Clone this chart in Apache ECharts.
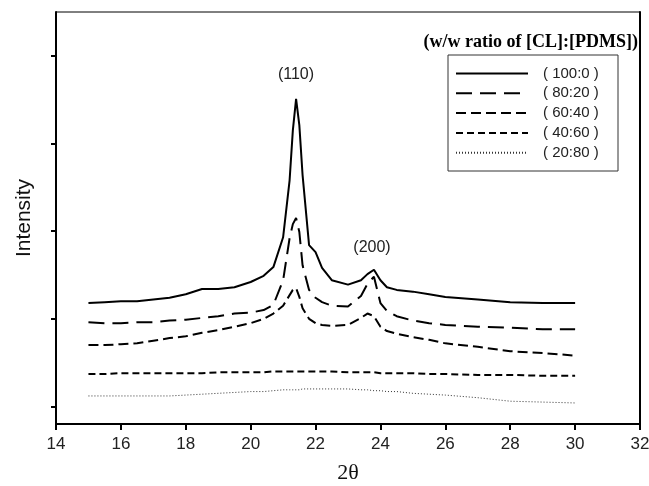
<!DOCTYPE html>
<html>
<head>
<meta charset="utf-8">
<script src="https://cdn.jsdelivr.net/npm/echarts@6/dist/echarts.min.js"></script>
<style>html,body{margin:0;padding:0;background:#fff}#c{width:649px;height:486px}</style>
</head>
<body>
<div id="c"></div>
<script>
// 2-theta values (shared)
var twoTheta = [15,15.5,16,16.5,17,17.5,18,18.5,19,19.5,20,20.4,20.7,21.0,21.2,21.3,21.4,21.5,21.6,21.8,22.0,22.2,22.5,23.0,23.4,23.6,23.8,24.0,24.2,24.5,25,25.5,26,27,28,29,30];
// intensities (arbitrary units) per composition
var s100_0 = [118,119,120,120,122,124,128,134,134,136,142,149,159,193,258,315,351,321,264,184,176,158,144,139,144,151,156,144,136,133,131,128,125,122,119,118,118];
var s80_20 = [96,95,95,96,96,98,99,101,103,106,107,110,116,144,192,208,215,199,161,133,124,119,115,114,126,140,148,118,109,103,98,95,93,91,90,88,88];
var s60_40 = [70,70,71,72,75,78,80,84,87,91,95,100,106,115,127,133,135,125,112,100,95,93,92,93,101,106,103,91,86,83,79,76,72,68,63,61,58];
var s40_60 = [37,37,38,38,38,38,38,38,39,39,39,39,40,40,40,40,40,40,40,40,40,40,40,39,39,39,39,38,38,38,38,37,37,36,36,35,35];
var s20_80 = [12,12,12,12,12,12,13,14,15,16,17,17,18,19,19,19,19,19,20,20,20,20,20,20,19,19,18,18,17,17,15,14,13,10,6,5,4];
var seriesNames = ['( 100:0 )','( 80:20 )','( 60:40 )','( 40:60 )','( 20:80 )'];
var xTicks = [14,16,18,20,22,24,26,28,30,32];
var yTickValues = [0,100,200,300,400];

function pairs(ys){ return twoTheta.map(function(x,i){ return [x, ys[i]]; }); }

var styles = [
  {type:'solid', width:2, color:'#000'},
  {type:[16,8], width:2, color:'#000'},
  {type:[10,5], width:2, color:'#000'},
  {type:[7,4], width:2, color:'#000'},
  {type:[1,2], width:1, color:'#333'}
];
var allData = [s100_0, s80_20, s60_40, s40_60, s20_80];

var chart = echarts.init(document.getElementById('c'), null, {renderer:'canvas'});
chart.setOption({
  animation:false,
  backgroundColor:'#fff',
  grid:{left:56, right:9, top:12, bottom:62, show:true, borderColor:'#000', borderWidth:1, outerBoundsMode:'none', containLabel:false},
  xAxis:{
    type:'value', min:xTicks[0], max:xTicks[xTicks.length-1], interval:2,
    name:'2θ', nameLocation:'middle', nameGap:38,
    nameTextStyle:{fontFamily:'Liberation Serif', fontSize:22, color:'#111'},
    axisLine:{onZero:false, lineStyle:{color:'#000', width:2}},
    axisTick:{show:true, length:6, lineStyle:{color:'#000', width:2}},
    axisLabel:{fontFamily:'Liberation Sans', fontSize:17, color:'#222', margin:12},
    splitLine:{show:false}
  },
  yAxis:[{
    type:'value', min:-20, max:450,
    name:'Intensity', nameLocation:'middle', nameGap:21,
    nameTextStyle:{fontFamily:'Liberation Sans', fontSize:21, color:'#111'},
    axisLine:{show:true, onZero:false, lineStyle:{color:'#000', width:2}},
    axisTick:{show:true, length:5, customValues:yTickValues, lineStyle:{color:'#000', width:2}},
    axisLabel:{show:false},
    splitLine:{show:false}
  },{
    type:'value', min:-20, max:450, position:'right',
    axisLine:{show:true, onZero:false, lineStyle:{color:'#000', width:2}},
    axisTick:{show:false}, axisLabel:{show:false}, splitLine:{show:false}
  }],
  legend:{
    orient:'vertical', left:455, top:66, padding:0,
    itemWidth:72, itemHeight:14, itemGap:4.8,
    itemStyle:{opacity:0},
    textStyle:{fontFamily:'Liberation Sans', fontSize:15, color:'#222', padding:[0,0,0,10], lineHeight:14},
    data:seriesNames
  },
  graphic:[
    {type:'rect', shape:{x:448, y:55, width:170, height:116}, style:{fill:'none', stroke:'#333', lineWidth:1}},
    {type:'text', x:638, y:42, style:{text:'(w/w ratio of [CL]:[PDMS])', font:'bold 18px "Liberation Serif"', fill:'#000', align:'right', verticalAlign:'middle'}},
    {type:'text', x:296, y:75, style:{text:'(110)', font:'16px "Liberation Sans"', fill:'#222', align:'center', verticalAlign:'middle'}},
    {type:'text', x:372, y:248, style:{text:'(200)', font:'16px "Liberation Sans"', fill:'#222', align:'center', verticalAlign:'middle'}}
  ],
  series: allData.map(function(d,i){
    return {
      name:seriesNames[i], type:'line', data:pairs(d), showSymbol:false, symbol:'none',
      lineStyle:styles[i], itemStyle:{color:styles[i].color}
    };
  })
});
</script>
</body>
</html>
